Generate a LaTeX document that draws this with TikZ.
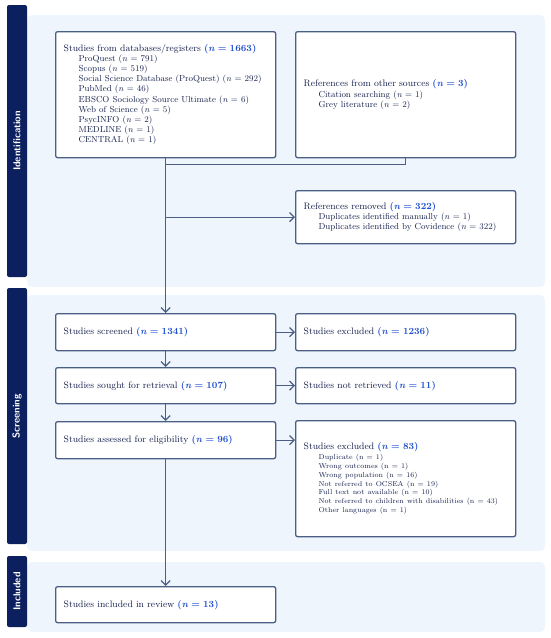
\documentclass[tikz,border=0pt]{standalone}
\usepackage{xcolor}
\usetikzlibrary{arrows.meta,calc}
\definecolor{panelbg}{HTML}{EEF5FD}
\definecolor{barnavy}{HTML}{0C1F5E}
\definecolor{boxline}{HTML}{4B5F85}
\definecolor{textnavy}{HTML}{18224E}
\definecolor{countblue}{HTML}{1F4FD0}
\newcommand{\ncount}[1]{\textcolor{countblue}{\textbf{(\textit{n} = #1)}}}
\newcommand{\nit}[1]{(\textit{n} = #1)}
\newcommand{\indentline}{\hspace*{15pt}}
\newcommand{\itemsize}{\fontsize{8.7}{10.2}\selectfont}
\tikzset{
	flowbox/.style={
			draw=boxline, line width=1.3pt, fill=white, rounded corners=2pt,
			anchor=north west, align=left, text width=204pt,
			inner xsep=8pt, inner ysep=0pt, text=textnavy,
			font={\fontsize{9.4}{10.2}\selectfont}
		},
	flowline/.style={draw=boxline, line width=1.3pt},
	flowarrow/.style={flowline, -{Straight Barb[length=4.5pt,width=9pt]}},
	sidebar/.style={fill=barnavy, rounded corners=2pt},
	sidelabel/.style={rotate=90, text=white, font={\sffamily\bfseries\fontsize{10}{12}\selectfont}},
	panel/.style={fill=panelbg, rounded corners=5pt}
}

\begin{document}
\begin{tikzpicture}[x=1pt,y=-1pt]
		\useasboundingbox (0,0) rectangle (550,638);

		% Phase panels and side bars
		\fill[panel] (27,15) rectangle (545,287);
		\fill[panel] (27,295) rectangle (545,551);
		\fill[panel] (27,562) rectangle (545,632);
		\fill[sidebar] (7,5) rectangle (27,277);
		\fill[sidebar] (7,288) rectangle (27,544);
		\fill[sidebar] (7,556) rectangle (27,627);
		\node[sidelabel] (lblident) at (17,141) {Identification};
		\node[sidelabel] (lblscreen) at (17,416) {Screening};
		\node[sidelabel] (lblincl) at (17,591.5) {Included};

		% Identification
		\node[flowbox, minimum height=126pt] (dbs) at (55,31) {Studies from databases/registers \ncount{1663}\\
			{\itemsize
			\indentline ProQuest \nit{791}\\
			\indentline Scopus \nit{519}\\
			\indentline Social Science Database (ProQuest) \nit{292}\\
			\indentline PubMed \nit{46}\\
			\indentline EBSCO Sociology Source Ultimate \nit{6}\\
			\indentline Web of Science \nit{5}\\
			\indentline PsycINFO \nit{2}\\
			\indentline MEDLINE \nit{1}\\
			\indentline CENTRAL \nit{1}\par}};
		\node[flowbox, minimum height=126pt] (other) at (295,31) {References from other sources \ncount{3}\\
			{\itemsize
			\indentline Citation searching \nit{1}\\
			\indentline Grey literature \nit{2}\par}};
		\node[flowbox, minimum height=53pt] (removed) at (295,190) {References removed \ncount{322}\\
			{\itemsize
			\indentline Duplicates identified manually \nit{1}\\
			\indentline Duplicates identified by Covidence \nit{322}\par}};

		% Screening
		\node[flowbox, minimum height=37pt] (screened) at (55,313) {Studies screened \ncount{1341}};
		\node[flowbox, minimum height=37pt] (excl1) at (295,313) {Studies excluded \ncount{1236}};
		\node[flowbox, minimum height=36pt] (sought) at (55,367) {Studies sought for retrieval \ncount{107}};
		\node[flowbox, minimum height=36pt] (notret) at (295,367) {Studies not retrieved \ncount{11}};
		\node[flowbox, minimum height=37pt] (assessed) at (55,421) {Studies assessed for eligibility \ncount{96}};
		\node[flowbox, minimum height=116pt] (excl2) at (295,420) {Studies excluded \ncount{83}\\[1pt]
			{\fontsize{7.1}{8.8}\selectfont
			\indentline Duplicate (n = 1)\\
			\indentline Wrong outcomes (n = 1)\\
			\indentline Wrong population (n = 16)\\
			\indentline Not referred to OCSEA (n = 19)\\
			\indentline Full text not available (n = 10)\\
			\indentline Not referred to children with disabilities (n = 43)\\
			\indentline Other languages (n = 1)\par}};

		% Included
		\node[flowbox, minimum height=36pt] (included) at (55,586) {Studies included in review \ncount{13}};

		% Connectors
		\path (dbs.south) ++(0,6) coordinate (joinpt);
		\draw[flowline] (other.south) |- (joinpt);
		\draw[flowarrow] (dbs.south) -- (screened.north);
		\draw[flowarrow] (removed.west -| dbs.south) -- (removed.west);
		\draw[flowarrow] (screened.east) -- (excl1.west);
		\draw[flowarrow] (sought.east) -- (notret.west);
		\draw[flowarrow] (assessed.east) -- (assessed.east -| excl2.west);
		\draw[flowarrow] (screened.south) -- (sought.north);
		\draw[flowarrow] (sought.south) -- (assessed.north);
		\draw[flowarrow] (assessed.south) -- (included.north);
	\end{tikzpicture}
\end{document}
